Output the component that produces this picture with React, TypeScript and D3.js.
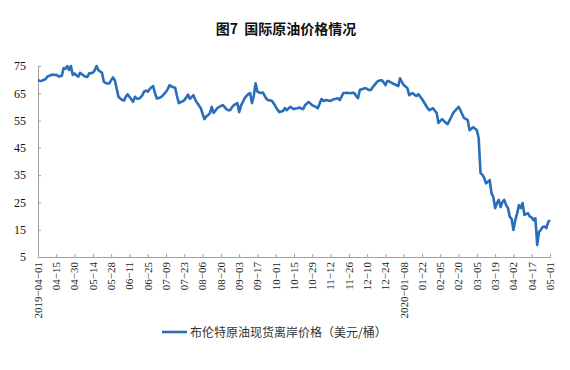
import React, { useEffect, useRef } from 'react';
import * as d3 from 'd3';

// Brent spot FOB, one value per trading day, 2019-04-01 .. 2020-05-01
const brentPrices: number[] = [
  69.8, 69.6, 69.5, 69.9, 70.1, 71.0, 71.4, 71.6, 71.9, 71.7,
  71.8, 71.3, 71.2, 71.4, 74.2, 74.0, 75.0, 73.5, 75.0, 71.7,
  72.3, 71.6, 71.1, 72.5, 72.0, 71.5, 71.1, 71.0, 72.3, 72.4,
  72.5, 73.4, 75.0, 73.5, 73.0, 72.5, 69.2, 68.8, 68.6, 68.6,
  69.8, 70.8, 69.8, 66.8, 63.7, 63.1, 62.6, 62.3, 63.7, 64.6,
  63.7, 62.8, 61.9, 63.7, 63.1, 63.0, 63.4, 64.2, 65.6, 66.0,
  65.6, 66.5, 67.2, 67.6, 65.0, 63.1, 63.3, 63.5, 64.0, 64.8,
  65.5, 66.6, 68.0, 67.5, 67.2, 67.0, 64.0, 61.4, 61.8, 62.0,
  62.5, 63.4, 64.5, 63.0, 63.6, 64.3, 62.6, 61.5, 60.5, 59.6,
  57.5, 55.5, 56.5, 57.0, 57.7, 60.0, 57.8, 58.6, 59.5, 60.0,
  60.3, 60.7, 60.0, 59.2, 58.8, 58.8, 59.8, 60.6, 61.0, 61.4,
  58.1, 60.5, 61.8, 63.2, 64.0, 64.7, 65.1, 61.4, 64.0, 68.7,
  65.6, 65.3, 65.1, 65.3, 64.0, 62.9, 62.5, 62.4, 62.2, 61.2,
  60.0, 59.0, 58.1, 58.3, 58.5, 59.6, 58.8, 59.4, 60.0, 59.6,
  59.2, 59.4, 59.5, 59.8, 59.4, 59.2, 60.6, 61.2, 61.8, 61.2,
  60.6, 60.3, 60.0, 59.5, 61.2, 62.9, 62.2, 62.4, 62.5, 62.3,
  62.2, 62.6, 62.9, 63.0, 63.2, 62.5, 63.8, 65.1, 65.1, 65.2,
  65.1, 65.0, 65.2, 65.1, 64.0, 63.2, 66.2, 66.5, 66.7, 66.9,
  66.6, 66.2, 66.2, 67.2, 68.0, 68.8, 69.5, 69.7, 69.8, 69.0,
  68.0, 69.5, 69.4, 69.0, 68.6, 68.3, 68.0, 67.6, 70.5, 69.2,
  68.0, 67.5, 66.9, 64.3, 64.8, 65.0, 64.4, 64.0, 64.7, 63.8,
  62.9, 61.8, 60.7, 59.6, 58.8, 59.2, 59.5, 58.6, 57.8, 54.1,
  54.9, 55.5, 54.9, 54.2, 53.7, 55.0, 56.3, 57.7, 58.5, 59.3,
  60.0, 58.8, 57.3, 55.9, 55.6, 55.2, 51.5, 52.0, 52.6, 52.0,
  51.5, 48.5, 35.8, 35.2, 34.0, 32.0, 32.5, 33.2, 28.4, 27.0,
  22.9, 24.8, 25.9, 23.3, 25.2, 25.9, 24.0, 23.0, 19.8, 19.0,
  14.9, 18.5, 21.0, 24.0, 22.9, 24.8, 20.4, 20.8, 21.0, 19.8,
  19.5, 18.5, 19.2, 9.4, 14.2, 15.0, 16.0, 16.2, 15.6, 17.8,
  18.5,
];

// one label every 10 trading days
const tickLabels: string[] = [
  '2019-04-01', '04-15', '04-30', '05-14', '05-28', '06-11', '06-25', '07-09',
  '07-23', '08-06', '08-20', '09-03', '09-17', '10-01', '10-15', '10-29',
  '11-12', '11-26', '12-10', '12-24', '2020-01-08', '01-22', '02-05', '02-20',
  '03-05', '03-19', '04-02', '04-17', '05-01',
];
const tickStep = 10;
const yTicks: number[] = [5, 15, 25, 35, 45, 55, 65, 75];

const title = '图7\u00a0\u00a0国际原油价格情况';
const seriesName = '布伦特原油现货离岸价格（美元/桶）';

export default function App() {
  const ref = useRef<SVGSVGElement | null>(null);

  useEffect(() => {
    const svg = d3.select(ref.current);
    svg.selectAll('*').remove();

    const left = 38;
    const right = 550;
    const top = 66;
    const bottom = 257;
    const axisColor = '#a0a0a0';
    const lineColor = '#2a6ebb';

    const x = d3.scaleLinear().domain([0, brentPrices.length - 1]).range([left, right]);
    const y = d3.scaleLinear().domain([5, 75]).range([bottom, top]);

    // title
    svg.append('text')
      .attr('x', 286).attr('y', 34)
      .attr('text-anchor', 'middle')
      .attr('font-family', '"Noto Sans CJK SC", sans-serif')
      .attr('font-weight', 'bold')
      .attr('font-size', 14)
      .attr('fill', '#111')
      .text(title);

    // y axis
    const gy = svg.append('g').attr('transform', `translate(${left},0)`)
      .call(d3.axisLeft(y).tickValues(yTicks).tickSize(-3).tickPadding(12).tickFormat(d3.format('d')));
    gy.select('.domain').attr('stroke', axisColor);
    gy.selectAll('line').attr('stroke', axisColor);
    gy.selectAll('text')
      .attr('font-family', '"Liberation Serif", serif')
      .attr('font-size', 12)
      .attr('fill', '#111');

    // x axis
    const tickIdx = tickLabels.map((_, i) => i * tickStep);
    const gx = svg.append('g').attr('transform', `translate(0,${bottom})`)
      .call(d3.axisBottom(x).tickValues(tickIdx).tickSize(-3).tickFormat(() => ''));
    gx.select('.domain').attr('stroke', axisColor);
    gx.selectAll('line').attr('stroke', axisColor);

    svg.append('g').selectAll('text')
      .data(tickLabels)
      .join('text')
      .attr('transform', (_, i) => `translate(${x(i * tickStep)},${bottom + 5}) rotate(-90)`)
      .attr('text-anchor', 'end')
      .attr('dy', '0.35em')
      .attr('font-family', '"Liberation Serif", serif')
      .attr('font-size', 11)
      .attr('fill', '#222')
      .text(d => d.replace(/-/g, '\u2212'));

    // series
    const line = d3.line<number>()
      .x((_, i) => x(i))
      .y(d => y(d));
    svg.append('path')
      .datum(brentPrices)
      .attr('fill', 'none')
      .attr('stroke', lineColor)
      .attr('stroke-width', 2.6)
      .attr('stroke-linejoin', 'round')
      .attr('d', line);

    // legend
    svg.append('line')
      .attr('x1', 162).attr('x2', 187).attr('y1', 332).attr('y2', 332)
      .attr('stroke', lineColor).attr('stroke-width', 2.6);
    svg.append('text')
      .attr('x', 190).attr('y', 336.5)
      .attr('font-family', '"Noto Sans CJK SC", sans-serif')
      .attr('font-size', 12)
      .attr('fill', '#333')
      .text(seriesName);
  }, []);

  return (
    <svg
      ref={ref}
      width={570}
      height={370}
      style={{ position: 'absolute', left: 0, top: 0, background: '#fff' }}
    />
  );
}
